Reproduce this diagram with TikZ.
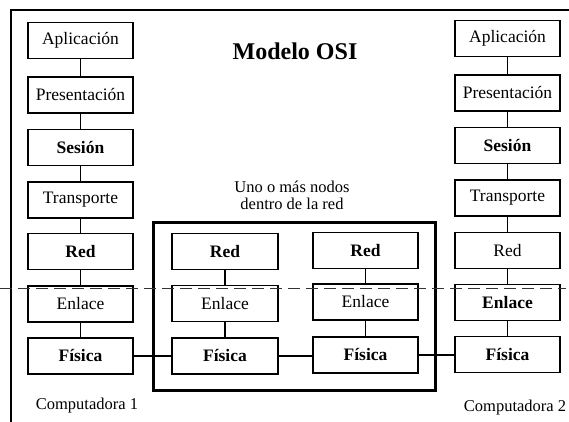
\documentclass[tikz,border=0pt]{standalone}
\usepackage{fontspec}
\setmainfont{Liberation Serif}
\begin{document}
\begin{tikzpicture}[x=1pt,y=-1pt,
  layerbox/.style={draw, line width=1.3pt, minimum width=105pt, minimum height=36pt,
    inner sep=0pt, font=\fontsize{17.5}{20}\selectfont},
  bl/.style={font=\fontsize{17.5}{20}\selectfont\bfseries},
  link/.style={line width=1.2pt},
  netbox/.style={draw, line width=3pt, minimum width=282pt, minimum height=168pt, inner sep=0pt},
  lbl/.style={font=\fontsize{16.5}{17}\selectfont, inner sep=0pt}]
\useasboundingbox (0,0) rectangle (569,422);
% frame
\coordinate (fb) at (11,422);
\coordinate (fc) at (11,10);
\coordinate (fr) at (569,10);
\draw[line width=1.4pt] (fb) -- (fc) -- (fr);
% title
\node[font=\fontsize{24}{28}\selectfont\bfseries] (title) at (295,51) {Modelo OSI};
\node[lbl, align=center] (nota) at (292,195) {Uno o más nodos\\dentro de la red};
% network box
\node[netbox] (net) at (294,306) {};
% left column
\node[layerbox] (L1) at (80.5,40.5) {Aplicación};
\node[layerbox] (L2) at (80.5,95) {Presentación};
\node[layerbox,bl] (L3) at (80.5,147.5) {Sesión};
\node[layerbox] (L4) at (80.5,200) {Transporte};
\node[layerbox,bl] (L5) at (80.5,251.5) {Red};
\node[layerbox] (L6) at (80.5,304) {Enlace};
\node[layerbox,bl] (L7) at (80.5,356) {Física};
% right column
\node[layerbox] (R1) at (507.5,38.5) {Aplicación};
\node[layerbox] (R2) at (507.5,93) {Presentación};
\node[layerbox,bl] (R3) at (507.5,145.5) {Sesión};
\node[layerbox] (R4) at (507.5,198) {Transporte};
\node[layerbox] (R5) at (507.5,250.5) {Red};
\node[layerbox,bl] (R6) at (507.5,302.5) {Enlace};
\node[layerbox,bl] (R7) at (507.5,354.5) {Física};
% middle columns
\node[layerbox,bl,minimum width=106pt] (A5) at (225,251.5) {Red};
\node[layerbox,minimum width=106pt] (A6) at (225,303.5) {Enlace};
\node[layerbox,bl,minimum width=106pt] (A7) at (225,356) {Física};
\node[layerbox,bl] (B5) at (365.5,250.5) {Red};
\node[layerbox] (B6) at (365.5,302) {Enlace};
\node[layerbox,bl] (B7) at (365.5,355) {Física};
% vertical links
\foreach \c in {L,R} {
  \foreach \i/\j in {1/2,2/3,3/4,4/5,5/6,6/7} {
    \draw[link] (\c\i.south) -- (\c\j.north);
  }
}
\foreach \c in {A,B} {
  \foreach \i/\j in {5/6,6/7} {
    \draw[link] (\c\i.south) -- (\c\j.north);
  }
}
% horizontal links between physical layers
\draw[link] (L7.east) -- (L7.east -| A7.west);
\draw[link] (A7.east) -- (A7.east -| B7.west);
\draw[link] (B7.east) -- (B7.east -| R7.west);
% dashed line
\coordinate (dl) at (0,288);
\coordinate (dr) at (566,288);
\draw[line width=0.9pt, dash pattern=on 12pt off 6pt, black!80] (dl) -- (dr);
% computer labels
\node[lbl] (c1) at (87,406) {Computadora 1};
\node[lbl] (c2) at (515,408) {Computadora 2};
\end{tikzpicture}
\end{document}
